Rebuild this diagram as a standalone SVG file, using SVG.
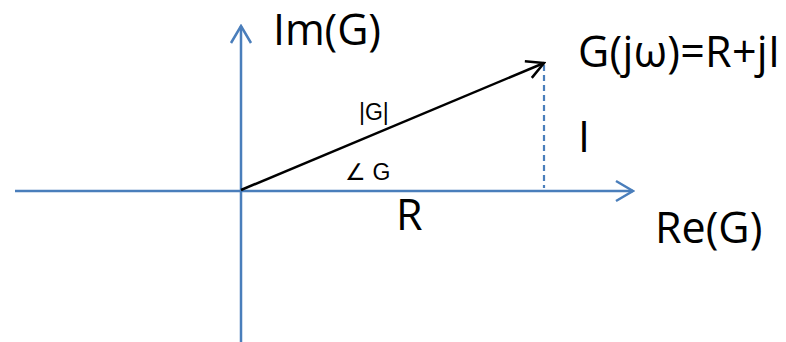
<svg xmlns="http://www.w3.org/2000/svg" width="786" height="342" viewBox="0 0 786 342">
<defs>
<style>
.axis{stroke:#4a7ebb;stroke-width:2.5;fill:none}
.vec{stroke:#000;stroke-width:2.5;fill:none}
.big{font-family:"Open Sans","Liberation Sans",sans-serif;font-size:43px;fill:#000}
.small{font-family:"Liberation Sans",Arial,sans-serif;font-size:23px;fill:#000}
</style>
<marker id="ab" viewBox="0 0 20 24" refX="18" refY="12" markerWidth="20" markerHeight="24" markerUnits="userSpaceOnUse" orient="auto">
<polyline points="1,2 18,12 1,22" fill="none" stroke="#4a7ebb" stroke-width="2.5"/>
</marker>
<marker id="ak" viewBox="0 0 20 24" refX="18" refY="12" markerWidth="20" markerHeight="24" markerUnits="userSpaceOnUse" orient="auto">
<polyline points="1,3 18,12 1,21" fill="none" stroke="#000" stroke-width="2.5"/>
</marker>
</defs>
<g id="connectors">
<line class="axis" x1="15" y1="191" x2="633" y2="191" marker-end="url(#ab)"/>
<line class="axis" x1="241" y1="342" x2="241" y2="26" marker-end="url(#ab)"/>
<line x1="544" y1="65" x2="544" y2="188" stroke="#4a7ebb" stroke-width="2.2" stroke-dasharray="6,4"/>
<line class="vec" x1="241" y1="190" x2="544" y2="63" marker-end="url(#ak)"/>
</g>
<g id="label-im"><text class="big" x="273" y="45" font-size="42" textLength="108">Im(G)</text></g>
<g id="label-g"><text class="big" x="578" y="67" textLength="202">G(jω)=R+jI</text></g>
<g id="label-mag"><text class="small" x="359" y="120">|G|</text></g>
<g id="label-angle"><text class="small" x="345" y="180" font-size="21">∠ G</text></g>
<g id="label-i"><text class="big" x="578" y="152">I</text></g>
<g id="label-r"><text class="big" x="396" y="230">R</text></g>
<g id="label-re"><text class="big" x="655" y="243">Re(G)</text></g>
</svg>
